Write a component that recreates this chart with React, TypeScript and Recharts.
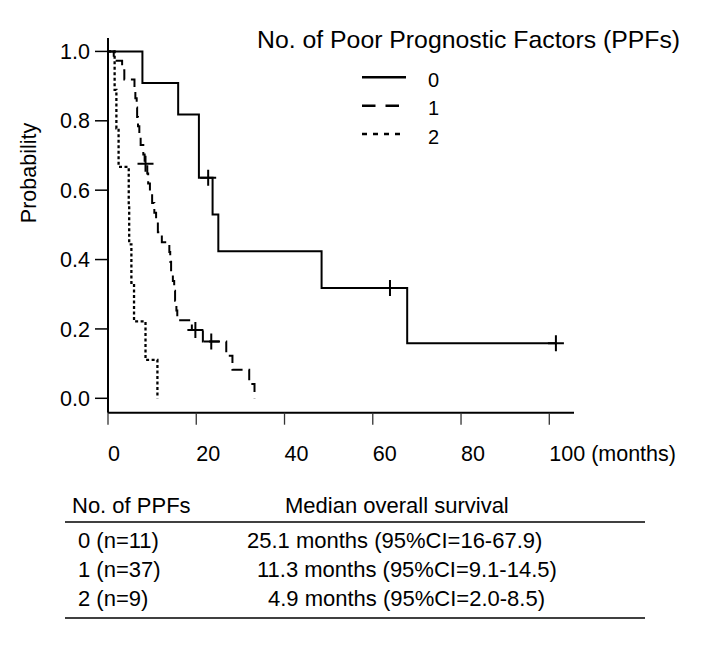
import { Legend, Line, LineChart, XAxis, YAxis } from "recharts";

type KMPoint = { t: number; s: number; censored?: boolean };

const FONT = '"Liberation Sans", Arial, Helvetica, sans-serif';

const MONTH_TICKS = [0, 20, 40, 60, 80, 100];
const PROB_TICKS = [0, 0.2, 0.4, 0.6, 0.8, 1.0];

// survival curves (months, probability); censored = "+" mark
const ppf0: KMPoint[] = [
  { t: 0, s: 1 },
  { t: 7.8, s: 0.909 },
  { t: 15.9, s: 0.818 },
  { t: 20.6, s: 0.636 },
  { t: 22.7, s: 0.636, censored: true },
  { t: 23.7, s: 0.53 },
  { t: 25.0, s: 0.424 },
  { t: 48.4, s: 0.318 },
  { t: 63.9, s: 0.318, censored: true },
  { t: 67.8, s: 0.159 },
  { t: 101.5, s: 0.159, censored: true },
];

const ppf1: KMPoint[] = [
  { t: 0, s: 1 },
  { t: 1.3, s: 0.973 },
  { t: 3.2, s: 0.946 },
  { t: 3.7, s: 0.919 },
  { t: 6.0, s: 0.892 },
  { t: 6.2, s: 0.865 },
  { t: 6.5, s: 0.838 },
  { t: 6.6, s: 0.811 },
  { t: 6.8, s: 0.784 },
  { t: 7.1, s: 0.757 },
  { t: 7.4, s: 0.73 },
  { t: 8.0, s: 0.703 },
  { t: 8.3, s: 0.676 },
  { t: 8.5, s: 0.676, censored: true },
  { t: 8.9, s: 0.648 },
  { t: 9.1, s: 0.619 },
  { t: 9.5, s: 0.591 },
  { t: 10.0, s: 0.563 },
  { t: 10.5, s: 0.535 },
  { t: 10.9, s: 0.507 },
  { t: 11.3, s: 0.479 },
  { t: 12.2, s: 0.45 },
  { t: 13.9, s: 0.422 },
  { t: 14.1, s: 0.394 },
  { t: 14.3, s: 0.366 },
  { t: 14.7, s: 0.338 },
  { t: 15.0, s: 0.31 },
  { t: 15.2, s: 0.281 },
  { t: 15.5, s: 0.253 },
  { t: 15.7, s: 0.225 },
  { t: 19.0, s: 0.197 },
  { t: 19.8, s: 0.197, censored: true },
  { t: 21.5, s: 0.164 },
  { t: 23.4, s: 0.164, censored: true },
  { t: 26.8, s: 0.123 },
  { t: 28.2, s: 0.082 },
  { t: 32.0, s: 0.041 },
  { t: 33.2, s: 0 },
];

const ppf2: KMPoint[] = [
  { t: 0, s: 1 },
  { t: 1.5, s: 0.889 },
  { t: 1.9, s: 0.778 },
  { t: 2.4, s: 0.667 },
  { t: 4.7, s: 0.556 },
  { t: 4.8, s: 0.444 },
  { t: 5.3, s: 0.333 },
  { t: 5.9, s: 0.222 },
  { t: 8.5, s: 0.111 },
  { t: 11.2, s: 0 },
];

const legendTitle = "No. of Poor Prognostic Factors (PPFs)";
const groupNames = ["0", "1", "2"];

const tableHeader = ["No. of PPFs", "Median overall survival"];
const tableGroups = ["0 (n=11)", "1 (n=37)", "2 (n=9)"];
const tableMedians = [
  "25.1 months (95%CI=16-67.9)",
  "11.3 months (95%CI=9.1-14.5)",
  "4.9 months (95%CI=2.0-8.5)",
];

const SERIES = [
  { name: groupNames[0], data: ppf0, dash: undefined, width: 2, legendDash: undefined, legendLen: 44 },
  { name: groupNames[1], data: ppf1, dash: "11 6", width: 2, legendDash: "13.5 10", legendLen: 44 },
  { name: groupNames[2], data: ppf2, dash: "3 2.5", width: 2.3, legendDash: "5 6", legendLen: 40 },
];

function renderCensor(props: any) {
  const { cx, cy, payload, index } = props;
  if (!payload?.censored || cx == null || cy == null) return <g key={`n-${index}`} />;
  return (
    <g key={`c-${index}`}>
      <line x1={cx - 8} x2={cx + 8} y1={cy} y2={cy} stroke="#000" strokeWidth={2} />
      <line x1={cx} x2={cx} y1={cy - 8} y2={cy + 8} stroke="#000" strokeWidth={2} />
    </g>
  );
}

function MonthTick({ x, y, payload }: any) {
  const label = payload.value === 100 ? "100 (months)" : String(payload.value);
  return (
    <text x={x} y={y} dy={36} textAnchor="start" fontSize={21.5} fill="#000" fontFamily={FONT}>
      {label}
    </text>
  );
}

function ProbabilityLabel({ viewBox }: any) {
  const x = (viewBox?.x ?? 0) + 35.5;
  const y = (viewBox?.y ?? 38) + 135;
  return (
    <text
      x={x}
      y={y}
      transform={`rotate(-90, ${x}, ${y})`}
      textAnchor="middle"
      fontSize={21.5}
      fill="#000"
      fontFamily={FONT}
    >
      Probability
    </text>
  );
}

function SurvivalLegend() {
  return (
    <svg width={450} height={130} style={{ display: "block", fontFamily: FONT }}>
      <text x={7} y={28.3} fontSize={24.8} fill="#000">
        {legendTitle}
      </text>
      {SERIES.map((s, i) => (
        <g key={s.name}>
          <line
            x1={112}
            x2={112 + s.legendLen}
            y1={57.3 + i * 28.4}
            y2={57.3 + i * 28.4}
            stroke="#000"
            strokeWidth={2.5}
            strokeDasharray={s.legendDash}
          />
          <text x={178} y={67 + i * 28.4} fontSize={20} fill="#000">
            {s.name}
          </text>
        </g>
      ))}
    </svg>
  );
}

function MedianTable() {
  const medianX = [247, 257, 268];
  return (
    <svg
      width={707}
      height={173}
      style={{ position: "absolute", left: 0, top: 480, fontFamily: FONT }}
    >
      <text x={72} y={33} fontSize={22} fill="#000">
        {tableHeader[0]}
      </text>
      <text x={285} y={33} fontSize={22} fill="#000">
        {tableHeader[1]}
      </text>
      <line x1={65} x2={645} y1={42} y2={42} stroke="#000" strokeWidth={1.6} />
      {tableGroups.map((g, i) => (
        <g key={g}>
          <text x={78} y={68 + i * 29} fontSize={22} fill="#000">
            {g}
          </text>
          <text x={medianX[i]} y={68 + i * 29} fontSize={22} fill="#000">
            {tableMedians[i]}
          </text>
        </g>
      ))}
      <line x1={65} x2={645} y1={138} y2={138} stroke="#000" strokeWidth={1.6} />
    </svg>
  );
}

export default function App() {
  return (
    <div style={{ position: "absolute", left: 0, top: 0, width: 707, height: 653, background: "#fff" }}>
      <LineChart width={707} height={480} margin={{ top: 38, right: 133, bottom: 17.3, left: 0 }}>
        <XAxis
          dataKey="t"
          type="number"
          domain={[0, 105.6]}
          ticks={MONTH_TICKS}
          allowDataOverflow
          height={50}
          axisLine={{ stroke: "#000", strokeWidth: 2 }}
          tickLine={{ stroke: "#333", strokeWidth: 1.3 }}
          tickSize={12}
          tickMargin={0}
          tick={<MonthTick />}
        />
        <YAxis
          dataKey="s"
          type="number"
          domain={[-0.0415, 1.0387]}
          ticks={PROB_TICKS}
          allowDataOverflow
          width={108}
          axisLine={{ stroke: "#000", strokeWidth: 2 }}
          tickLine={{ stroke: "#000", strokeWidth: 1.5 }}
          tickSize={13}
          tickMargin={5}
          tickFormatter={(v: number) => v.toFixed(1)}
          tick={{ fontSize: 21.5, fill: "#000", fontFamily: FONT }}
          label={<ProbabilityLabel />}
        />
        <Legend
          layout="horizontal"
          verticalAlign="middle"
          align="center"
          wrapperStyle={{ left: 250, top: 20, width: 450, height: 130 }}
          content={() => <SurvivalLegend />}
        />
        {SERIES.map((s) => (
          <Line
            key={s.name}
            name={s.name}
            data={s.data}
            dataKey="s"
            type="stepAfter"
            stroke="#000"
            strokeWidth={s.width}
            strokeDasharray={s.dash}
            dot={renderCensor}
            activeDot={false}
            isAnimationActive={false}
          />
        ))}
      </LineChart>
      <MedianTable />
    </div>
  );
}
